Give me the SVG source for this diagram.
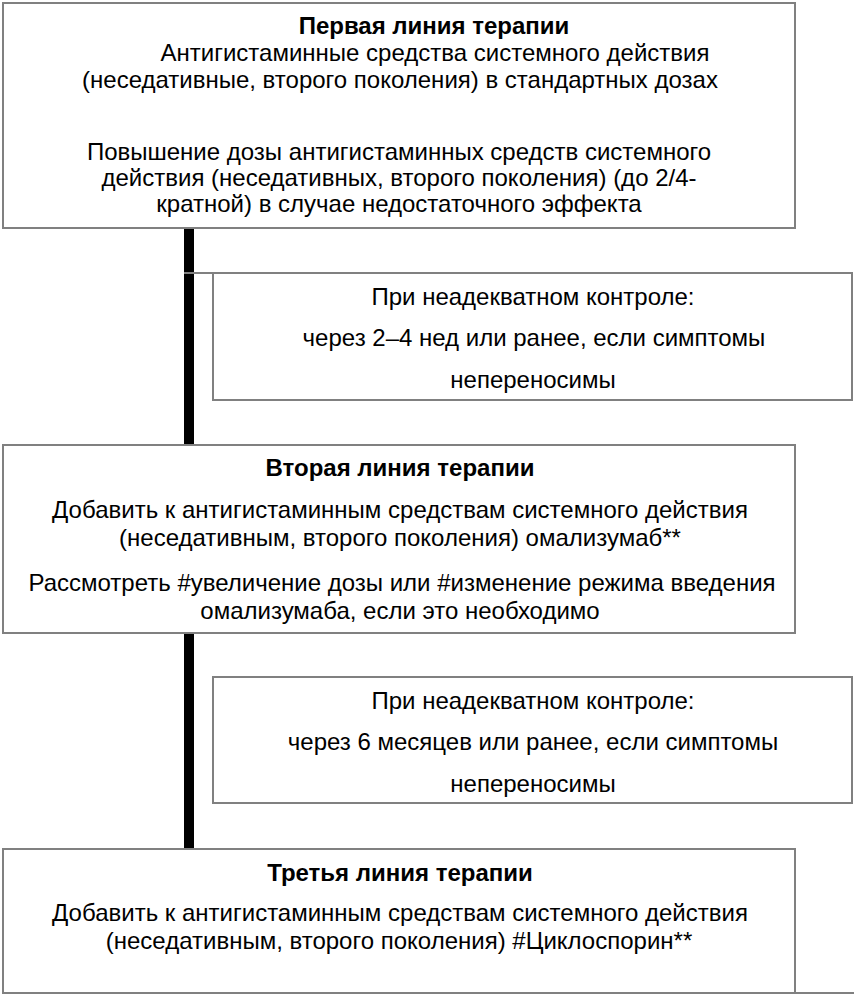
<svg xmlns="http://www.w3.org/2000/svg" width="858" height="998" viewBox="0 0 858 998">
<style>
.box{fill:#fff;stroke:#808080;stroke-width:2}
.ln{stroke:#808080;stroke-width:2;fill:none}
text{font-family:"Liberation Sans",Arial,sans-serif;font-size:24px;fill:#000;text-anchor:middle}
.b{font-weight:bold}
</style>
<rect width="858" height="998" fill="#fff"/>
<g id="connectors">
<rect x="184" y="228" width="10" height="621" fill="#000"/>
<line class="ln" x1="184" y1="273" x2="213" y2="273"/>
<line class="ln" x1="795" y1="993" x2="854" y2="993"/>
</g>
<g id="first-line">
<rect class="box" x="3" y="3" width="792" height="225"/>
<text class="b" x="434" y="34">Первая линия терапии</text>
<text x="435" y="61">Антигистаминные средства системного действия</text>
<text x="400" y="88">(неседативные, второго поколения) в стандартных дозах</text>
<text x="399" y="160">Повышение дозы антигистаминных средств системного</text>
<text x="399" y="186">действия (неседативных, второго поколения) (до 2/4-</text>
<text x="399" y="212">кратной) в случае недостаточного эффекта</text>
</g>
<g id="control-1">
<rect class="box" x="213" y="273" width="639" height="127"/>
<text x="533" y="305">При неадекватном контроле:</text>
<text x="534" y="346">через 2–4 нед или ранее, если симптомы</text>
<text x="533" y="388">непереносимы</text>
</g>
<g id="second-line">
<rect class="box" x="3" y="445" width="792" height="188"/>
<text class="b" x="400" y="476">Вторая линия терапии</text>
<text x="400" y="518">Добавить к антигистаминным средствам системного действия</text>
<text x="400" y="546">(неседативным, второго поколения) омализумаб**</text>
<text x="402" y="591">Рассмотреть #увеличение дозы или #изменение режима введения</text>
<text x="400" y="619">омализумаба, если это необходимо</text>
</g>
<g id="control-2">
<rect class="box" x="213" y="677" width="639" height="126"/>
<text x="533" y="709">При неадекватном контроле:</text>
<text x="533" y="750">через 6 месяцев или ранее, если симптомы</text>
<text x="533" y="792">непереносимы</text>
</g>
<g id="third-line">
<rect class="box" x="3" y="849" width="792" height="144"/>
<text class="b" x="400" y="881">Третья линия терапии</text>
<text x="400" y="921">Добавить к антигистаминным средствам системного действия</text>
<text x="399" y="949">(неседативным, второго поколения) #Циклоспорин**</text>
</g>
</svg>
